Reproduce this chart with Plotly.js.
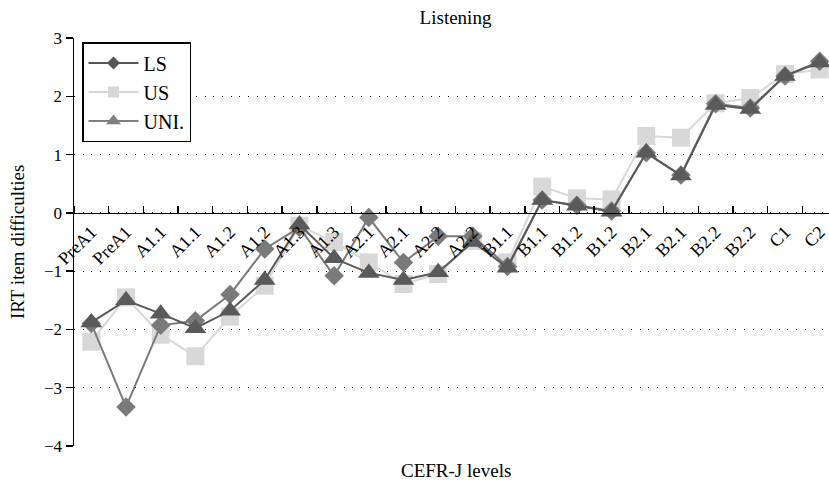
<!DOCTYPE html>
<html>
<head>
<meta charset="utf-8">
<script src="https://cdn.plot.ly/plotly-3.0.1.min.js"></script>
<style>
html,body{margin:0;padding:0;overflow:hidden;background:#fff;}
#chart{width:837px;height:482px;}
</style>
</head>
<body>
<div id="chart"></div>
<script>
const categories = ["PreA1","PreA1","A1.1","A1.1","A1.2","A1.2","A1.3","A1.3","A2.1","A2.1","A2.2","A2.2","B1.1","B1.1","B1.2","B1.2","B2.1","B2.1","B2.2","B2.2","C1","C2"];
const lsValues  = [-1.90,-3.33,-1.93,-1.85,-1.40,-0.62,-0.25,-1.08,-0.08,-0.85,-0.40,-0.40,-0.92,0.22,0.13,0.03,1.03,0.65,1.87,1.80,2.35,2.60];
const usValues  = [-2.21,-1.45,-2.09,-2.46,-1.78,-1.25,-0.22,-0.50,-0.85,-1.22,-1.05,-0.48,-0.85,0.45,0.25,0.23,1.32,1.29,1.88,1.97,2.38,2.46];
const uniValues = [-1.88,-1.50,-1.73,-1.98,-1.68,-1.15,-0.20,-0.78,-1.03,-1.15,-1.02,-0.50,-0.94,0.22,0.12,0.02,1.03,0.64,1.85,1.78,2.35,2.58];
const yTicks = [-4,-3,-2,-1,0,1,2,3];

const xIdx = categories.map((c,i)=>i);
const FONT = "Liberation Serif, Times New Roman, serif";

const traces = [
  {x:xIdx, y:usValues, name:"US", mode:"lines+markers", showlegend:false,
   line:{color:"#d8d8d8", width:2}, marker:{symbol:"square", size:18, color:"#d8d8d8"}},
  {x:xIdx, y:lsValues, name:"LS", mode:"lines+markers", showlegend:false,
   line:{color:"#7a7a7a", width:2}, marker:{symbol:"diamond", size:15, color:"#7a7a7a"}},
  {x:xIdx, y:uniValues, name:"UNI.", mode:"lines+markers", showlegend:false,
   line:{color:"#5a5a5a", width:2}, marker:{symbol:"triangle-up", size:19, color:"#5a5a5a"}},
  // legend entries (the reference legend uses its own shades)
  {x:[null], y:[null], name:"LS", mode:"lines+markers", legendrank:1,
   line:{color:"#555555", width:2}, marker:{symbol:"diamond", size:10, color:"#555555"}},
  {x:[null], y:[null], name:"US", mode:"lines+markers", legendrank:2,
   line:{color:"#d8d8d8", width:2}, marker:{symbol:"square", size:11, color:"#d8d8d8"}},
  {x:[null], y:[null], name:"UNI.", mode:"lines+markers", legendrank:3,
   line:{color:"#808080", width:2}, marker:{symbol:"triangle-up", size:13, color:"#808080"}}
];

const layout = {
  width:837, height:482,
  margin:{l:74, r:0, t:38, b:36},
  paper_bgcolor:"#fff", plot_bgcolor:"#fff",
  font:{family:FONT, color:"#000"},
  title:{text:"Listening", font:{family:FONT, size:19, color:"#000"},
         x:0.5, xref:"paper", y:1-17/482, yanchor:"middle"},
  showlegend:true,
  legend:{x:0.0105, y:0.99, xanchor:"left", yanchor:"top",
          bgcolor:"#fff", bordercolor:"#000", borderwidth:1.5,
          font:{family:FONT, size:20, color:"#000"}, itemwidth:50,
          traceorder:"normal"},
  xaxis:{
    range:[-0.5, 21.5], anchor:"free", position:4/7,
    tickmode:"array", tickvals:xIdx, ticktext:categories, tickangle:-45,
    ticks:"", tickfont:{family:FONT, size:18, color:"#000"},
    showline:true, linecolor:"#000", linewidth:1.5,
    showgrid:false, zeroline:false,
    minor:{tickmode:"linear", tick0:-0.5, dtick:1, ticks:"inside", ticklen:7,
           tickwidth:1.5, tickcolor:"#000", showgrid:false}
  },
  yaxis:{
    range:[-4, 3], tickmode:"array", tickvals:yTicks,
    ticks:"outside", ticklen:7, tickwidth:1.5, tickcolor:"#000",
    tickfont:{family:FONT, size:17, color:"#000"},
    showline:true, linecolor:"#000", linewidth:1.5,
    showgrid:true, gridcolor:"#000", gridwidth:1, griddash:"1px,7.7px",
    zeroline:false
  },
  annotations:[
    {text:"CEFR-J levels", xref:"paper", yref:"paper", x:0.5, y:-(470-446)/408,
     xanchor:"center", yanchor:"middle", showarrow:false,
     font:{family:FONT, size:19, color:"#000"}},
    {text:"IRT item difficulties", xref:"paper", yref:"paper", x:(17-74)/763, y:0.5,
     xanchor:"center", yanchor:"middle", textangle:-90, showarrow:false,
     font:{family:FONT, size:19, color:"#000"}}
  ]
};

Plotly.newPlot("chart", traces, layout, {displayModeBar:false, staticPlot:true});
</script>
</body>
</html>
